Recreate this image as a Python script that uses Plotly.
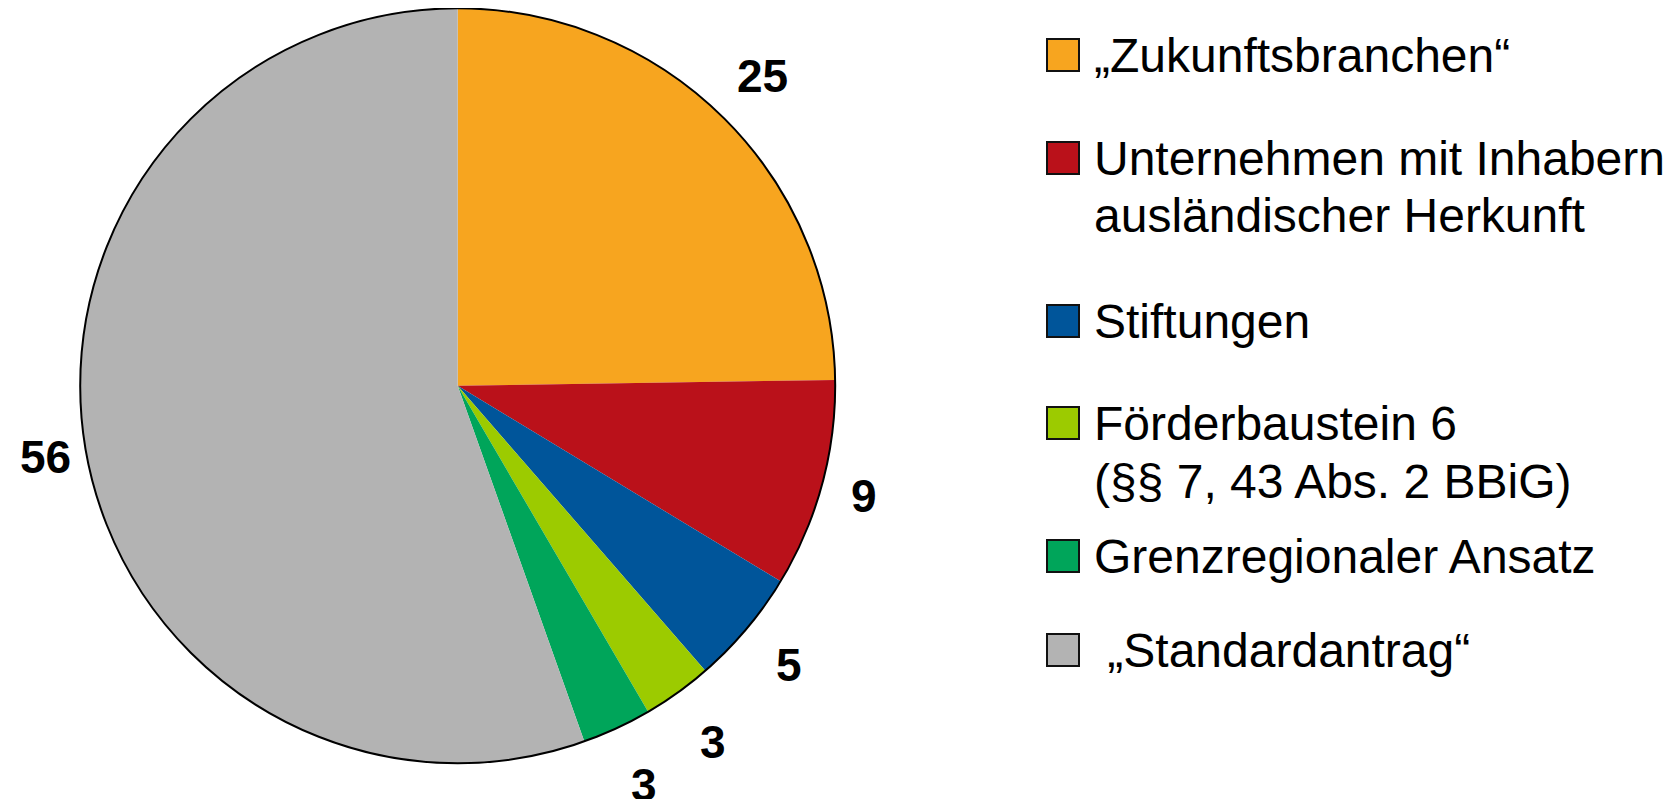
import math
import plotly.graph_objects as go

# ---- data ----
categories = [
    "„Zukunftsbranchen“",
    "Unternehmen mit Inhabern<br>ausländischer Herkunft",
    "Stiftungen",
    "Förderbaustein 6<br>(§§ 7, 43 Abs. 2 BBiG)",
    "Grenzregionaler Ansatz",
    "\u00a0„Standardantrag“",
]
values = [25, 9, 5, 3, 3, 56]
colors = ["#F7A51F", "#BA111A", "#00559A", "#9CCB00", "#00A55A", "#B3B3B3"]

# ---- layout constants (pixels in the 1677x799 page; the page body has an 8px margin) ----
OFF = 8
W, H = 1677 - OFF, 799 - OFF
CX, CY, R = 457.7 - OFF, 385.8 - OFF, 377.5
LABEL_FS = 46
LEG_FS = 48
LABEL_GAP = 36


def px(x):
    return x / W


def py(y):
    return 1 - y / H


fig = go.Figure(
    go.Pie(
        labels=categories,
        values=values,
        sort=False,
        direction="clockwise",
        rotation=0,
        marker=dict(colors=colors, line=dict(width=0)),
        textinfo="none",
        hoverinfo="label+value",
        domain=dict(x=[px(CX - R), px(CX + R)], y=[py(CY + R), py(CY - R)]),
        showlegend=False,
    )
)

shapes = [
    dict(
        type="circle", xref="paper", yref="paper",
        x0=px(CX - R), x1=px(CX + R), y0=py(CY + R), y1=py(CY - R),
        line=dict(color="black", width=2), fillcolor="rgba(0,0,0,0)", layer="above",
    )
]
annotations = []

# value labels outside the pie, positioned from the slice angles
total = sum(values)
cum = 0
for v in values:
    mid = (cum + v / 2) / total * 2 * math.pi
    cum += v
    sx, sy = math.sin(mid), math.cos(mid)
    txt = str(v)
    d = R + LABEL_GAP + 0.65 * LABEL_FS * abs(sy)
    x = CX + d * sx
    y = CY - d * sy
    annotations.append(dict(
        x=px(x), y=py(y), xref="paper", yref="paper", text=f"<b>{txt}</b>",
        showarrow=False, xanchor="center", yanchor="middle",
        font=dict(family="Liberation Sans, Arial, sans-serif", size=LABEL_FS, color="black"),
    ))

# custom legend (square at the first line of each entry)
leg_y = [55, 158, 321, 423, 556, 650]
LINE_STEP = 57
SQ = 32
SQ_X = 1047 - OFF
TXT_X = 1092 - OFF
for lab, col, yc in zip(categories, colors, leg_y):
    yc = yc - OFF
    shapes.append(dict(
        type="rect", xref="paper", yref="paper",
        x0=px(SQ_X), x1=px(SQ_X + SQ), y0=py(yc + SQ / 2), y1=py(yc - SQ / 2),
        fillcolor=col, line=dict(color="#111111", width=2), layer="above",
    ))
    for k, line in enumerate(lab.split("<br>")):
        annotations.append(dict(
            x=px(TXT_X), y=py(yc + k * (LINE_STEP + 1)), xref="paper", yref="paper",
            text=line, showarrow=False, xanchor="left", yanchor="middle",
            font=dict(family="Liberation Sans, Arial, sans-serif", size=LEG_FS, color="black"),
        ))

fig.update_layout(
    width=W, height=H,
    margin=dict(l=0, r=0, t=0, b=0),
    paper_bgcolor="white", plot_bgcolor="white",
    showlegend=False,
    shapes=shapes, annotations=annotations,
)

fig.write_html("out.html")
